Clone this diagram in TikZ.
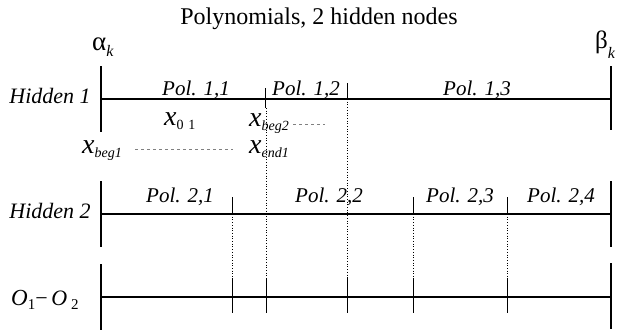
\documentclass[tikz,border=0pt]{standalone}
\usepackage{fontspec}
\setmainfont{Liberation Serif}
\newcommand\xlab[1]{{\fontsize{28}{28}\selectfont\itshape x}\raisebox{-4pt}{\fontsize{14}{14}\selectfont\itshape #1}}
\tikzset{
  axis/.style={line width=2.4pt},
  post/.style={line width=1.6pt},
  tick/.style={line width=0.8pt},
  dotl/.style={line width=0.7pt, dotted},
  dashl/.style={line width=0.6pt, dashed, gray},
  pol/.style={font=\fontsize{21}{21}\selectfont\itshape, anchor=base, inner sep=0pt},
  rowlab/.style={font=\fontsize{22}{22}\selectfont\itshape, anchor=base, inner sep=0pt},
  xl/.style={anchor=base west, inner sep=0pt},
}
\begin{document}
\begin{tikzpicture}[x=1pt,y=-1pt]
\useasboundingbox (0,0) rectangle (619,332);
% title
\node[inner sep=0pt, anchor=base, font=\fontsize{24}{24}\selectfont] (title) at (319,24) {Polynomials, 2 hidden nodes};
\node[inner sep=0pt, anchor=base west] (alpha) at (92,50) {{\fontsize{27}{27}\selectfont α}\raisebox{-6pt}{\fontsize{16}{16}\selectfont\itshape k}};
\node[inner sep=0pt, anchor=base west] (beta) at (595,48) {{\fontsize{25}{25}\selectfont β}\raisebox{-10pt}{\fontsize{16}{16}\selectfont\itshape k}};
% row labels
\node[rowlab] (h1) at (50,103) {Hidden 1};
\node[rowlab] (h2) at (50,218) {Hidden 2};
\node[inner sep=0pt, anchor=base west] (oo) at (11,305) {{\fontsize{23}{23}\selectfont\itshape O}\raisebox{-4pt}{\fontsize{15}{15}\selectfont 1}{\fontsize{22}{22}\selectfont −\,\itshape O}\raisebox{-4pt}{\fontsize{15}{15}\selectfont\ 2}};
% coordinates
\coordinate (a1) at (101,99); \coordinate (b1) at (611,99);
\coordinate (a2) at (101,214); \coordinate (b2) at (611,214);
\coordinate (a3) at (101,297); \coordinate (b3) at (611,297);
% axes
\draw[axis] (a1) -- (b1);
\draw[axis] (a2) -- (b2);
\draw[axis] (a3) -- (b3);
% end posts
\draw[post] (101,66) -- (101,132);
\draw[post] (611,66) -- (611,130);
\draw[post] (101,181) -- (101,247);
\draw[post] (611,181) -- (611,247);
\draw[post] (101,264) -- (101,330);
\draw[post] (611,263) -- (611,329);
% hidden 1 ticks
\draw[tick] (265,88) -- (265,108);
\draw[dotl] (266,108) -- (266,278);
\draw[tick] (266,278) -- (266,313);
\draw[tick] (347,83) -- (347,99);
\draw[dotl] (347,99) -- (347,278);
\draw[tick] (347,278) -- (347,313);
% hidden 2 ticks
\foreach \xx in {232,413,507} {
  \draw[tick] (\xx,197) -- (\xx,214);
  \draw[dotl] (\xx,214) -- (\xx,278);
  \draw[tick] (\xx,278) -- (\xx,313);
}
% polynomial labels
\node[pol] (p11) at (196,95) {Pol. 1,1};
\node[pol] (p12) at (306,95) {Pol. 1,2};
\node[pol] (p13) at (477,95) {Pol. 1,3};
\node[pol] (p21) at (180,202) {Pol. 2,1};
\node[pol] (p22) at (329,202) {Pol. 2,2};
\node[pol] (p23) at (460,202) {Pol. 2,3};
\node[pol] (p24) at (561,202) {Pol. 2,4};
% x labels
\node[xl] (x01) at (164,125) {\xlab{\upshape 0\,\,1}};
\node[xl] (xb2) at (249,126) {\xlab{beg2}};
\node[xl] (xb1) at (82,153) {\xlab{beg1}};
\node[xl] (xe1) at (249,153) {\xlab{end1}};
\coordinate (d1s) at (293,124); \coordinate (d1e) at (325,124);
\coordinate (d2s) at (135,149); \coordinate (d2e) at (233,149);
\draw[dashl] (d1s) -- (d1e);
\draw[dashl] (d2s) -- (d2e);
\end{tikzpicture}
\end{document}
